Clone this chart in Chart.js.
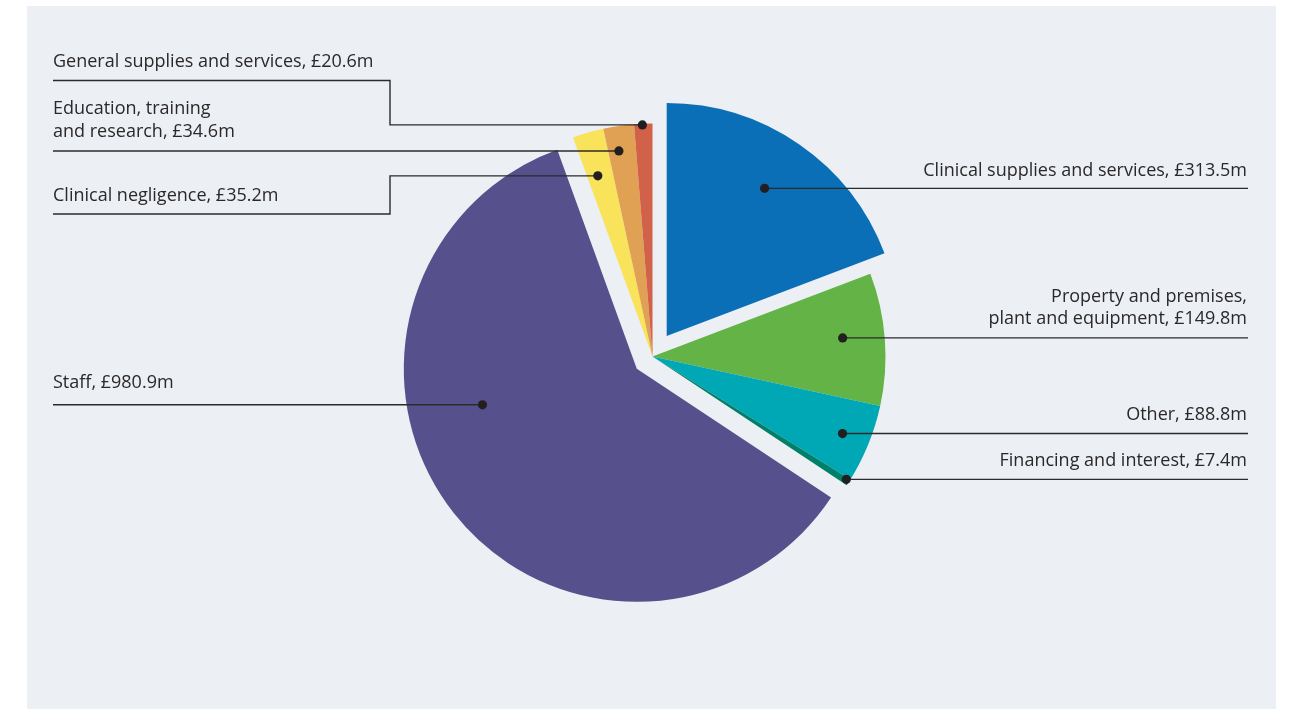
<!DOCTYPE html>
<html>
<head>
<meta charset="utf-8">
<script src="https://cdn.jsdelivr.net/npm/chart.js@4.4.1/dist/chart.umd.min.js"></script>
<style>
  html, body { margin: 0; padding: 0; background: #ffffff; }
  #wrap { width: 1290px; height: 709px; }
</style>
</head>
<body>
<div id="wrap"><canvas id="spendChart" width="1290" height="709"></canvas></div>
<script>
var categories = [
  "Clinical supplies and services",
  ["Property and premises,", "plant and equipment"],
  "Other",
  "Financing and interest",
  "Staff",
  "Clinical negligence",
  ["Education, training", "and research"],
  "General supplies and services"
];
var spendValues = [313.5, 149.8, 88.8, 7.4, 980.9, 35.2, 34.6, 20.6];
var sliceColours = ["#0a6fb7", "#64b346", "#00a8b6", "#00806a", "#56508c", "#f9e35a", "#e0a155", "#d2614a"];
// pixels each slice is pulled out from the centre
var explode = [25, 0, 0, 0, 20, 0, 0, 0];

// where the dot sits inside each slice (fraction of the angle, fraction of the radius)
var labelLayout = [
  { side: "right", along: 0.485, depth: 0.76, gap: 12 },
  { side: "right", along: 0.46, depth: 0.82 },
  { side: "right", along: 0.5, depth: 0.88 },
  { side: "right", along: 0.3, depth: 0.985 },
  { side: "left", along: 0.616, depth: 0.68, gap: 17 },
  { side: "left", along: 0.4, depth: 0.81, elbowX: 390, lineY: 214, gap: 13 },
  { side: "left", along: 0.38, depth: 0.894, gap: 14.3 },
  { side: "left", along: 0.45, depth: 0.995, elbowX: 390, lineY: 80.5 }
];

// move exploded arcs out along their middle angle, keeping the radius
var explodeSlices = {
  id: "explodeSlices",
  afterDatasetUpdate: function (chart, args) {
    args.meta.data.forEach(function (arc, i) {
      var d = explode[i] || 0;
      if (!d) return;
      var mid = (arc.startAngle + arc.endAngle) / 2;
      arc.x += Math.cos(mid) * d;
      arc.y += Math.sin(mid) * d;
    });
  }
};

var leaderLabels = {
  id: "leaderLabels",
  beforeDraw: function (chart) {
    var ctx = chart.ctx;
    ctx.save();
    ctx.fillStyle = "#ffffff";
    ctx.fillRect(0, 0, chart.width, chart.height);
    ctx.fillStyle = "#eceff3";
    ctx.fillRect(27, 6, 1249, chart.height - 6);
    ctx.restore();
  },
  afterDatasetsDraw: function (chart) {
    var ctx = chart.ctx;
    var meta = chart.getDatasetMeta(0);
    var leftX = 53;
    var rightX = 1248;
    ctx.save();
    ctx.font = '18px "Open Sans"';
    meta.data.forEach(function (arc, i) {
      var lay = labelLayout[i];
      var a = arc.startAngle + (arc.endAngle - arc.startAngle) * lay.along;
      var dx = arc.x + Math.cos(a) * arc.outerRadius * lay.depth;
      var dy = arc.y + Math.sin(a) * arc.outerRadius * lay.depth;
      var lineY = lay.lineY !== undefined ? lay.lineY : dy;

      ctx.strokeStyle = "#2d2a2b";
      ctx.lineWidth = 1.4;
      ctx.beginPath();
      ctx.moveTo(dx, dy);
      if (lay.side === "right") {
        ctx.lineTo(rightX, dy);
      } else if (lay.elbowX) {
        ctx.lineTo(lay.elbowX, dy);
        ctx.lineTo(lay.elbowX, lineY);
        ctx.lineTo(leftX, lineY);
      } else {
        ctx.lineTo(leftX, dy);
      }
      ctx.stroke();

      ctx.fillStyle = "#231f20";
      ctx.beginPath();
      ctx.arc(dx, dy, 4.6, 0, Math.PI * 2);
      ctx.fill();

      var name = chart.data.labels[i];
      var lines = Array.isArray(name) ? name.slice() : [name];
      lines[lines.length - 1] += ", £" + spendValues[i].toFixed(1) + "m";
      ctx.fillStyle = "#2b2829";
      ctx.textAlign = lay.side === "right" ? "right" : "left";
      ctx.textBaseline = "alphabetic";
      var gap = lay.gap || 13.8;
      for (var k = 0; k < lines.length; k++) {
        var baseY = lineY - gap - (lines.length - 1 - k) * 22.5;
        ctx.fillText(lines[k], lay.side === "right" ? rightX - 1 : leftX, baseY);
      }
    });
    ctx.restore();
  }
};

var ctx = document.getElementById("spendChart").getContext("2d");
var spendChart = new Chart(ctx, {
  type: "pie",
  data: {
    labels: categories,
    datasets: [
      {
        data: spendValues,
        backgroundColor: sliceColours,
        borderWidth: 0,
        hoverOffset: 0,
        radius: 233
      }
    ]
  },
  options: {
    responsive: false,
    animation: false,
    layout: {
      padding: { left: 15, top: 4, right: 0, bottom: 0 }
    },
    plugins: {
      legend: { display: false },
      tooltip: { enabled: false }
    }
  },
  plugins: [explodeSlices, leaderLabels]
});
</script>
</body>
</html>
